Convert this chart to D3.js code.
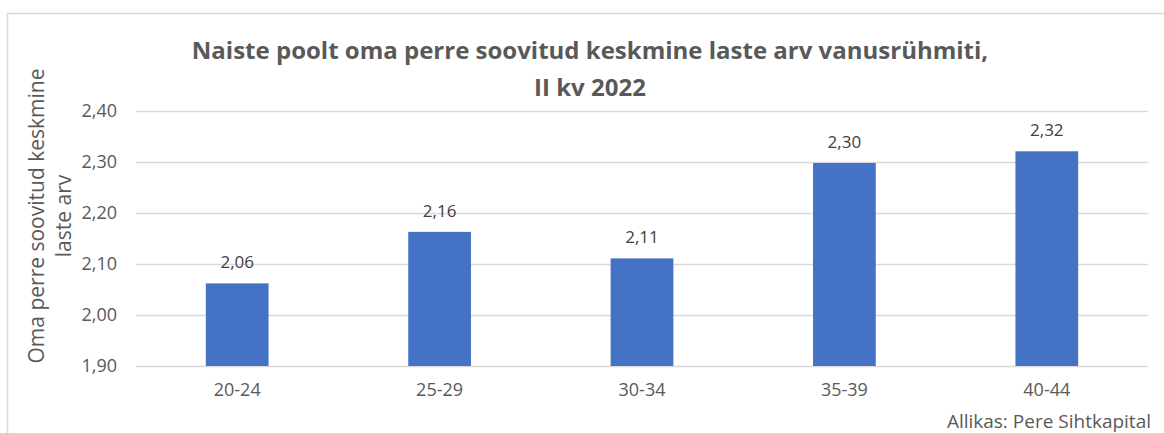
<!DOCTYPE html>
<html>
<head>
<meta charset="utf-8">
<script src="https://cdn.jsdelivr.net/npm/d3@7"></script>
<style>
  body { margin: 0; background: #fff; }
  text { font-family: "Open Sans", "Noto Sans", sans-serif; }
</style>
</head>
<body>
<div id="chart"></div>
<script>
var categories = ['20-24', '25-29', '30-34', '35-39', '40-44'];
var values = [2.062, 2.163, 2.111, 2.298, 2.321];
var valueLabels = ['2,06', '2,16', '2,11', '2,30', '2,32'];
var ticks = [1.9, 2.0, 2.1, 2.2, 2.3, 2.4];
var tickLabels = ['1,90', '2,00', '2,10', '2,20', '2,30', '2,40'];

(function () {
    var width = 1164;
    var height = 433;
    var plotLeft = 136, plotRight = 1148, plotTop = 111, plotBottom = 366;

    var svg = d3.select('#chart')
        .append('svg')
        .attr('width', width)
        .attr('height', height);

    // chart frame
    svg.append('rect')
        .attr('x', 7.5)
        .attr('y', 13.5)
        .attr('width', width + 10)
        .attr('height', height + 10)
        .attr('fill', '#fff')
        .attr('stroke', '#d9d9d9')
        .attr('stroke-width', 1.5);

    var x = d3.scaleBand()
        .domain(categories)
        .range([plotLeft, plotRight])
        .paddingInner(0.69)
        .paddingOuter(0.345);

    var y = d3.scaleLinear()
        .domain([1.9, 2.4])
        .range([plotBottom, plotTop]);

    // gridlines + tick labels
    var yAxis = d3.axisLeft(y)
        .tickValues(ticks)
        .tickSize(-(plotRight - plotLeft))
        .tickPadding(19)
        .tickFormat(function(d, i) { return tickLabels[i]; });

    var gy = svg.append('g')
        .attr('transform', 'translate(' + plotLeft + ',0)')
        .call(yAxis);
    gy.select('.domain').remove();
    gy.selectAll('.tick line')
        .attr('stroke', '#d9d9d9')
        .attr('stroke-width', 1.5);
    gy.selectAll('.tick text')
        .attr('fill', '#595959')
        .style('font-size', '18px');

    var xAxis = d3.axisBottom(x).tickSize(0).tickPadding(17);
    var gx = svg.append('g')
        .attr('transform', 'translate(0,' + plotBottom + ')')
        .call(xAxis);
    gx.select('.domain').remove();
    gx.selectAll('.tick text')
        .attr('fill', '#595959')
        .style('font-size', '18px');

    // bars
    svg.selectAll('.bar')
        .data(values)
        .enter()
        .append('rect')
        .attr('class', 'bar')
        .attr('x', function(d, i) { return x(categories[i]); })
        .attr('y', function(d) { return y(d); })
        .attr('width', x.bandwidth())
        .attr('height', function(d) { return y(1.9) - y(d); })
        .attr('fill', '#4472c4');

    svg.selectAll('.vlabel')
        .data(values)
        .enter()
        .append('text')
        .attr('class', 'vlabel')
        .attr('x', function(d, i) { return x(categories[i]) + x.bandwidth() / 2; })
        .attr('y', function(d) { return y(d) - 15; })
        .attr('text-anchor', 'middle')
        .attr('fill', '#404040')
        .style('font-size', '17px')
        .text(function(d, i) { return valueLabels[i]; });

    // title
    var title = svg.append('text')
        .attr('text-anchor', 'middle')
        .attr('fill', '#595959')
        .style('font-size', '24px')
        .style('font-weight', 'bold');
    title.append('tspan').attr('x', 590).attr('y', 59)
        .text('Naiste poolt oma perre soovitud keskmine laste arv vanusrühmiti,');
    title.append('tspan').attr('x', 590).attr('y', 96)
        .text('II kv 2022');

    // y axis title
    var ytitle = svg.append('text')
        .attr('transform', 'translate(0,' + 216 + ') rotate(-90)')
        .attr('text-anchor', 'middle')
        .attr('fill', '#595959')
        .style('font-size', '21px');
    ytitle.append('tspan').attr('x', 0).attr('y', 44).text('Oma perre soovitud keskmine');
    ytitle.append('tspan').attr('x', 0).attr('y', 71).text('laste arv');

    // source
    svg.append('text')
        .attr('x', 1151)
        .attr('y', 428)
        .attr('text-anchor', 'end')
        .attr('fill', '#595959')
        .style('font-size', '19px')
        .text('Allikas: Pere Sihtkapital');
})();
</script>
</body>
</html>
